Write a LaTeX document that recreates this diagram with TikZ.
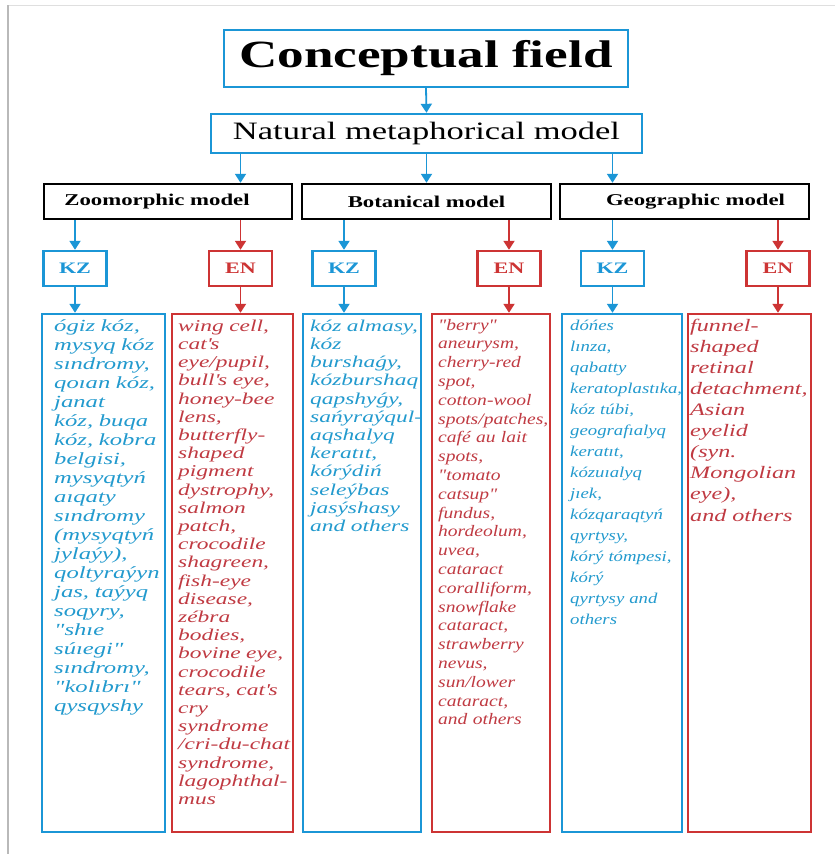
\documentclass[tikz,border=0pt]{standalone}
\usepackage{fontspec}
\setmainfont{Liberation Serif}
\newfontfamily\hdfont[FakeStretch=1.38]{Liberation Serif}
\newfontfamily\colA[FakeStretch=1.45]{Liberation Serif}
\newfontfamily\colB[FakeStretch=1.42]{Liberation Serif}
\newfontfamily\colC[FakeStretch=1.22]{Liberation Serif}
\newfontfamily\colD[FakeStretch=1.25]{Liberation Serif}
\newfontfamily\colE[FakeStretch=1.38]{Liberation Serif}
\usetikzlibrary{arrows.meta}
\definecolor{bblue}{RGB}{27,150,214}
\definecolor{bred}{RGB}{205,52,52}
\definecolor{tblue}{RGB}{34,154,206}
\definecolor{tred}{RGB}{192,58,66}
\newcommand{\apos}{\textquotesingle}
\tikzset{
  bbox/.style={draw=bblue, line width=2.4pt, inner sep=0pt},
  rbox/.style={draw=bred, line width=2.4pt, inner sep=0pt},
  kbox/.style={draw=black, line width=2.4pt, inner sep=0pt, minimum height=35pt, minimum width=249pt,
               font=\hdfont\bfseries\fontsize{16.5}{16.5}\selectfont},
  langbox/.style={inner sep=0pt, minimum width=63pt, minimum height=35pt,
               font=\hdfont\bfseries\fontsize{16}{16}\selectfont},
  colbox/.style={line width=2.4pt, inner sep=0pt, minimum height=518pt},
  coltext/.style={anchor=north west, align=left, inner sep=0pt, text width=160pt},
  barrow/.style={draw=bblue, line width=1.8pt, -{Triangle[width=11pt,length=9pt]}},
  rarrow/.style={draw=bred, line width=1.8pt, -{Triangle[width=11pt,length=9pt]}}
}
\begin{document}
\begin{tikzpicture}[x=1pt,y=-1pt]
\useasboundingbox (0,0) rectangle (835,854);
\fill[white] (0,0) rectangle (835,854);
\coordinate (fl1) at (8,5);
\coordinate (fl2) at (835,5);
\coordinate (fl3) at (8,854);
\draw[gray!25, line width=1pt] (fl1) -- (fl2);
\draw[gray!55, line width=1.2pt] (fl1) -- (fl3);

% header boxes
\node[bbox, minimum width=404pt, minimum height=57pt,
      font=\hdfont\bfseries\fontsize{38.5}{38.5}\selectfont] (cf) at (426,58.5) {Conceptual field};
\node[bbox, minimum width=431pt, minimum height=39pt,
      font=\hdfont\fontsize{25}{25}\selectfont] (nmm) at (426.5,133.5) {Natural metaphorical model};

% model boxes
\node[kbox, minimum width=248pt] (zoo) at (168,201.5) {Zoomorphic model\hspace*{22pt}};
\node[kbox] (bot) at (426.5,201.5) {Botanical model};
\node[kbox] (geo) at (684.5,201.5) {\hspace*{22pt}Geographic model};

% language boxes
\node[langbox, bbox, text=bblue] (kz1) at (75,268.5) {KZ};
\node[langbox, rbox, text=bred] (en1) at (240.5,268.5) {EN};
\node[langbox, bbox, text=bblue] (kz2) at (344,268.5) {KZ};
\node[langbox, rbox, text=bred] (en2) at (509,268.5) {EN};
\node[langbox, bbox, text=bblue] (kz3) at (612.5,268.5) {KZ};
\node[langbox, rbox, text=bred] (en3) at (778,268.5) {EN};

% column boxes
\node[colbox, draw=bblue, minimum width=123pt] (c1) at (103.5,573) {};
\node[colbox, draw=bred, minimum width=121pt] (c2) at (232.5,573) {};
\node[colbox, draw=bblue, minimum width=118pt] (c3) at (362,573) {};
\node[colbox, draw=bred, minimum width=118pt] (c4) at (491,573) {};
\node[colbox, draw=bblue, minimum width=120pt] (c5) at (622,573) {};
\node[colbox, draw=bred, minimum width=123pt] (c6) at (749.5,573) {};

% arrows
\draw[barrow] (cf.south) -- (nmm.north);
\draw[barrow] (nmm.south -| en1.center) -- (zoo.north -| en1.center);
\draw[barrow] (nmm.south) -- (bot.north);
\draw[barrow] (nmm.south -| kz3.center) -- (geo.north -| kz3.center);

\draw[barrow] (zoo.south -| kz1.center) -- (kz1.north);
\draw[rarrow] (zoo.south -| en1.center) -- (en1.north);
\draw[barrow] (bot.south -| kz2.center) -- (kz2.north);
\draw[rarrow] (bot.south -| en2.center) -- (en2.north);
\draw[barrow] (geo.south -| kz3.center) -- (kz3.north);
\draw[rarrow] (geo.south -| en3.center) -- (en3.north);

\draw[barrow] (kz1.south) -- (c1.north -| kz1.center);
\draw[rarrow] (en1.south) -- (c2.north -| en1.center);
\draw[barrow] (kz2.south) -- (c3.north -| kz2.center);
\draw[rarrow] (en2.south) -- (c4.north -| en2.center);
\draw[barrow] (kz3.south) -- (c5.north -| kz3.center);
\draw[rarrow] (en3.south) -- (c6.north -| en3.center);

% column texts
\node[coltext, text=tblue, font=\colA\itshape\fontsize{17}{19}\selectfont] (t1) at (54,317.7) {\strut ógiz kóz,\\
mysyq kóz\\
sındromy,\\
qoıan kóz,\\
janat\\
kóz, buqa\\
kóz, kobra\\
belgisi,\\
mysyqtyń\\
aıqaty\\
sındromy\\
(mysyqtyń\\
jylaýy),\\
qoltyraýyn\\
jas, taýyq\\
soqyry,\\
"shıe\\
súıegi"\\
sındromy,\\
"kolıbrı"\\
qysqyshy};

\node[coltext, text=tred, font=\colB\itshape\fontsize{16.5}{18.2}\selectfont] (t2) at (178,318.3) {\strut wing cell,\\
cat\apos s\\
eye/pupil,\\
bull\apos s eye,\\
honey-bee\\
lens,\\
butterfly-\\
shaped\\
pigment\\
dystrophy,\\
salmon\\
patch,\\
crocodile\\
shagreen,\\
fish-eye\\
disease,\\
zébra\\
bodies,\\
bovine eye,\\
crocodile\\
tears, cat\apos s\\
cry\\
syndrome\\
/cri-du-chat\\
syndrome,\\
lagophthal-\\
mus};

\node[coltext, text=tblue, font=\colB\itshape\fontsize{16.5}{18.2}\selectfont] (t3) at (310,318.3) {\strut kóz almasy,\\
kóz\\
burshaǵy,\\
kózburshaq\\
qapshyǵy,\\
sańyraýqul-\\
aqshalyq\\
keratıt,\\
kórýdiń\\
seleýbas\\
jasýshasy\\
and others};

\node[coltext, text=tred, font=\colC\itshape\fontsize{16}{18.8}\selectfont] (t4) at (438,316.8) {\strut "berry"\\
aneurysm,\\
cherry-red\\
spot,\\
cotton-wool\\
spots/patches,\\
café au lait\\
spots,\\
"tomato\\
catsup"\\
fundus,\\
hordeolum,\\
uvea,\\
cataract\\
coralliform,\\
snowflake\\
cataract,\\
strawberry\\
nevus,\\
sun/lower\\
cataract,\\
and others};

\node[coltext, text=tblue, font=\colD\itshape\fontsize{15}{21}\selectfont] (t5) at (570,315.3) {\strut dóńes\\
lınza,\\
qabatty\\
keratoplastıka,\\
kóz túbi,\\
geografıalyq\\
keratıt,\\
kózuıalyq\\
jıek,\\
kózqaraqtyń\\
qyrtysy,\\
kórý tómpesi,\\
kórý\\
qyrtysy and\\
others};

\node[coltext, text=tred, font=\colE\itshape\fontsize{17.5}{21.1}\selectfont] (t6) at (690,316.2) {\strut funnel-\\
shaped\\
retinal\\
detachment,\\
Asian\\
eyelid\\
(syn.\\
Mongolian\\
eye),\\
and others};
\end{tikzpicture}
\end{document}
